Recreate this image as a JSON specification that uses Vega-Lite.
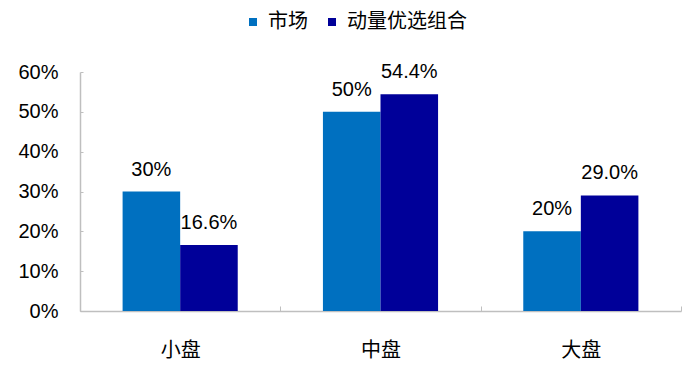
{
  "$schema": "https://vega.github.io/schema/vega-lite/v6.json",
  "width": 601,
  "height": 239,
  "autosize": {"type": "none"},
  "padding": {"left": 80, "top": 72, "right": 12, "bottom": 58},
  "background": "white",
  "config": {
    "view": {"stroke": null},
    "font": "Liberation Sans"
  },
  "data": {
    "values": [
      {"cat": "小盘", "series": "市场", "value": 0.30, "label": "30%"},
      {"cat": "小盘", "series": "动量优选组合", "value": 0.166, "label": "16.6%"},
      {"cat": "中盘", "series": "市场", "value": 0.50, "label": "50%"},
      {"cat": "中盘", "series": "动量优选组合", "value": 0.544, "label": "54.4%"},
      {"cat": "大盘", "series": "市场", "value": 0.20, "label": "20%"},
      {"cat": "大盘", "series": "动量优选组合", "value": 0.29, "label": "29.0%"}
    ]
  },
  "encoding": {
    "x": {
      "field": "cat",
      "type": "nominal",
      "sort": ["小盘", "中盘", "大盘"],
      "scale": {"paddingInner": 0, "paddingOuter": 0},
      "axis": {
        "title": null,
        "labelAngle": 0,
        "labelFont": "Noto Sans CJK SC",
        "labelFontSize": 20,
        "labelColor": "#000000",
        "labelPadding": 34,
        "domainColor": "#BFBFBF",
        "domainWidth": 1.5,
        "tickColor": "#BFBFBF",
        "tickBand": "extent",
        "tickSize": -5,
        "tickWidth": 1
      }
    },
    "xOffset": {
      "field": "series",
      "sort": ["市场", "动量优选组合"],
      "scale": {"paddingInner": 0, "paddingOuter": 0.74}
    },
    "y": {
      "field": "value",
      "type": "quantitative",
      "scale": {"domain": [0, 0.6]},
      "axis": {
        "title": null,
        "format": ".0%",
        "values": [0, 0.1, 0.2, 0.3, 0.4, 0.5, 0.6],
        "grid": false,
        "labelFontSize": 20,
        "labelColor": "#000000",
        "labelPadding": 25,
        "domainColor": "#BFBFBF",
        "domainWidth": 1.5,
        "tickColor": "#BFBFBF",
        "tickSize": -3
      }
    }
  },
  "layer": [
    {
      "mark": {"type": "bar"},
      "encoding": {
        "color": {
          "field": "series",
          "type": "nominal",
          "sort": ["市场", "动量优选组合"],
          "scale": {"domain": ["市场", "动量优选组合"], "range": ["#0070C0", "#000099"]},
          "legend": {
            "title": null,
            "orient": "none",
            "legendX": 163,
            "legendY": -60,
            "direction": "horizontal",
            "symbolType": "square",
            "symbolSize": 64,
            "symbolStrokeWidth": 0,
            "labelFont": "Noto Sans CJK SC",
            "labelFontSize": 20,
            "labelColor": "#000000",
            "labelOffset": 5,
            "columnPadding": 14
          }
        }
      }
    },
    {
      "mark": {"type": "text", "baseline": "alphabetic", "dy": -16, "fontSize": 20, "color": "#000000"},
      "encoding": {
        "text": {"field": "label"}
      }
    }
  ]
}
